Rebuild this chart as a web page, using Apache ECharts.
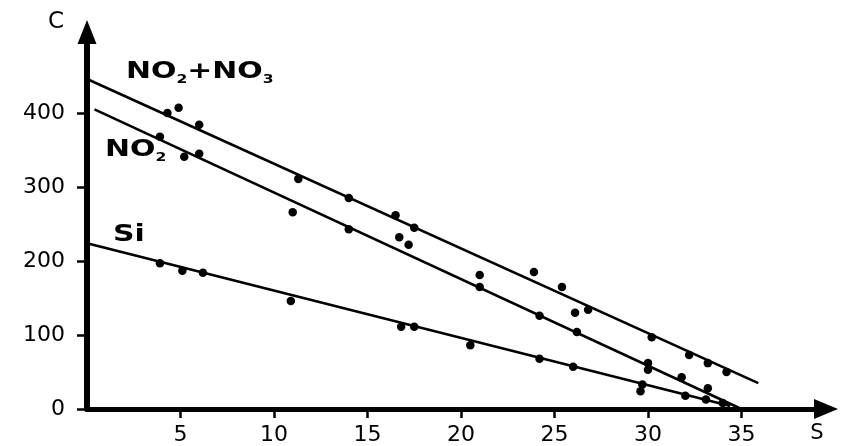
<!DOCTYPE html>
<html>
<head>
<meta charset="utf-8">
<script src="https://cdn.jsdelivr.net/npm/echarts@6/dist/echarts.min.js"></script>
<style>
html,body{margin:0;padding:0;background:#fff;}
#c{width:848px;height:446px;}
</style>
</head>
<body>
<div id="c"></div>
<script>
// ---- data ----
const xTicks = [5, 10, 15, 20, 25, 30, 35];
const yTicks = [0, 100, 200, 300, 400];
const seriesNames = ['NO2+NO3', 'NO2', 'Si'];

const totX = [4.3, 4.9, 6.0, 11.3, 14.0, 16.5, 17.5, 23.9, 25.4, 26.1, 26.8, 30.2, 32.2, 33.2, 34.2];
const totY = [400, 407, 384, 311, 285, 262, 245, 185, 165, 130, 134, 97, 73, 62, 50];

const no2X = [3.9, 5.2, 6.0, 11.0, 14.0, 16.7, 17.2, 21.0, 21.0, 24.2, 26.2, 30.0, 30.0, 31.8, 33.2];
const no2Y = [368, 341, 345, 266, 243, 232, 222, 181, 165, 126, 104, 62, 53, 43, 28];

const siX = [3.9, 5.1, 6.2, 10.9, 16.8, 17.5, 20.5, 24.2, 26.0, 29.7, 29.6, 32.0, 33.1, 34.0];
const siY = [197, 187, 184, 146, 111, 111, 86, 68, 57, 33, 24, 18, 13, 8];

// fitted regression lines (end points)
const totFit = [[0, 446], [35.9, 35]];
const no2Fit = [[0.4, 405], [35, 0]];
const siFit = [[0, 224], [34.4, 4]];

const zip = (xs, ys) => xs.map((x, i) => [x, ys[i]]);

const chart = echarts.init(document.getElementById('c'), null, {renderer: 'canvas'});
const ink = '#000';
const font = 'DejaVu Sans';

function scatter(name, data) {
  return {type: 'scatter', name: name, data: data, symbol: 'circle', symbolSize: 8.5,
          itemStyle: {color: ink, opacity: 1}, silent: true, z: 3};
}
function fit(name, data) {
  return {type: 'line', name: name, data: data, showSymbol: false, symbol: 'none',
          lineStyle: {color: ink, width: 2.6}, silent: true, z: 2};
}

chart.setOption({
  animation: false,
  backgroundColor: '#fff',
  grid: {left: 87, right: 22, top: 32, bottom: 37, containLabel: false},
  xAxis: {
    type: 'value', min: 0, max: 39.52,
    name: 'S', nameLocation: 'end', nameGap: -9,
    nameTextStyle: {color: ink, fontFamily: font, fontSize: 21, align: 'center', verticalAlign: 'top', padding: [14, 0, 0, 0]},
    axisLine: {show: true, onZero: false, symbol: ['none', 'triangle'], symbolSize: [20, 24],
               lineStyle: {color: ink, width: 5}},
    axisTick: {show: true, length: 9, lineStyle: {color: ink, width: 2.5}, customValues: xTicks},
    axisLabel: {show: true, margin: 15, color: ink, fontFamily: font, fontSize: 22, customValues: xTicks},
    splitLine: {show: false}
  },
  yAxis: {
    type: 'value', min: 0, max: 509.5,
    name: 'C', nameLocation: 'end', nameGap: 0,
    nameTextStyle: {color: ink, fontFamily: font, fontSize: 23, align: 'right', verticalAlign: 'bottom', padding: [0, 23, -2, 0]},
    axisLine: {show: true, onZero: false, symbol: ['none', 'triangle'], symbolSize: [19, 24],
               lineStyle: {color: ink, width: 6}},
    axisTick: {show: true, length: 10, lineStyle: {color: ink, width: 2.5}, customValues: yTicks},
    axisLabel: {show: true, margin: 22, color: ink, fontFamily: font, fontSize: 22, customValues: yTicks},
    splitLine: {show: false}
  },
  graphic: [
    {type: 'text', left: 126, top: 61, scaleX: 1.3, style: {
      text: '{b|NO}{s|2}{b|+NO}{s|3}',
      rich: {b: {fontFamily: font, fontWeight: 'bold', fontSize: 23, fill: ink, lineHeight: 26},
             s: {fontFamily: font, fontWeight: 'bold', fontSize: 12, fill: ink, lineHeight: 26, verticalAlign: 'bottom'}}
    }},
    {type: 'text', left: 105, top: 139, scaleX: 1.3, style: {
      text: '{b|NO}{s|2}',
      rich: {b: {fontFamily: font, fontWeight: 'bold', fontSize: 23, fill: ink, lineHeight: 26},
             s: {fontFamily: font, fontWeight: 'bold', fontSize: 12, fill: ink, lineHeight: 26, verticalAlign: 'bottom'}}
    }},
    {type: 'text', left: 113, top: 224, scaleX: 1.3, style: {
      text: 'Si', fontFamily: font, fontWeight: 'bold', fontSize: 23, fill: ink
    }}
  ],
  series: [
    fit(seriesNames[0], totFit), scatter(seriesNames[0], zip(totX, totY)),
    fit(seriesNames[1], no2Fit), scatter(seriesNames[1], zip(no2X, no2Y)),
    fit(seriesNames[2], siFit), scatter(seriesNames[2], zip(siX, siY))
  ]
});
</script>
</body>
</html>
